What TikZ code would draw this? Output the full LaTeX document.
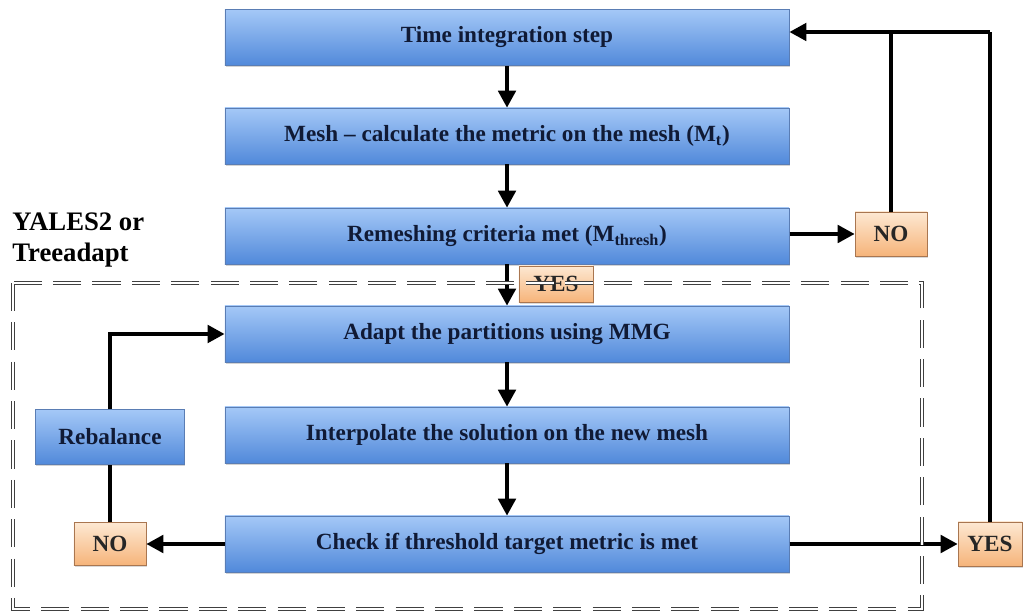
\documentclass[tikz,border=0pt]{standalone}
\usepackage{fontspec}
\setmainfont{Liberation Serif}
\usetikzlibrary{arrows.meta,shadows}

\definecolor{boxtop}{HTML}{A4C8F7}
\definecolor{boxbot}{HTML}{5189DA}
\definecolor{boxline}{HTML}{5A7DB4}
\definecolor{ortop}{HTML}{FDE8D2}
\definecolor{orbot}{HTML}{F6B47A}
\definecolor{orline}{HTML}{A97650}
\definecolor{navytext}{HTML}{101A35}

\begin{document}
\begin{tikzpicture}[x=0.025cm, y=-0.025cm,
    stepbox/.style={draw=boxline, line width=0.6pt, top color=boxtop, bottom color=boxbot,
      minimum width=14.1cm, minimum height=1.4cm, text=navytext,
      font=\fontsize{16.5}{19}\selectfont\bfseries,
      drop shadow={shadow xshift=0.6pt, shadow yshift=-1.2pt, opacity=0.35}},
    answer/.style={draw=orline, line width=0.6pt, top color=ortop, bottom color=orbot,
      minimum width=1.8cm, minimum height=1.1cm, inner sep=2pt, text=black!85,
      font=\fontsize{16.5}{19}\selectfont\bfseries,
      drop shadow={shadow xshift=0.6pt, shadow yshift=-1.2pt, opacity=0.3}},
    flow/.style={line width=2.3pt, -{Triangle[length=12pt, width=12.5pt]}},
    link/.style={line width=2.3pt},
    frame/.style={draw=black!75, line width=1.1pt, double=white, double distance=1.2pt,
      dash pattern=on 20pt off 8pt}]

        % Fix the page size (pixels of the reference)
        \useasboundingbox (0,0) rectangle (1026,615);

        % Main loop of the solver
        \node[stepbox] (time)   at (507,37.5) {Time integration step};
        \node[stepbox] (mesh)   at (507,136)  {Mesh -- calculate the metric on the mesh (M\textsubscript{t})};
        \node[stepbox] (remesh) at (507,236)  {Remeshing criteria met (M\textsubscript{thresh})};

        % Adaptation steps (inside the dashed frame)
        \node[stepbox] (adapt)  at (507,334)  {Adapt the partitions using MMG};
        \node[stepbox] (interp) at (507,435)  {Interpolate the solution on the new mesh};
        \node[stepbox] (check)  at (507,544)  {Check if threshold target metric is met};
        \node[stepbox, minimum width=3.725cm, minimum height=1.375cm] (rebal) at (110,437) {Rebalance};

        % Answers
        \node[answer] (no1)  at (891,234) {NO};
        \node[answer, minimum width=1.85cm, minimum height=0.9cm] (yes1) at (556,284) {YES};
        \node[answer, minimum height=1.075cm] (no2)  at (110,544) {NO};
        \node[answer, minimum width=1.6cm] (yes2) at (990,544) {YES};

        % Frame label
        \node[anchor=north west, align=left, inner sep=0pt, font=\fontsize{19}{21.5}\selectfont\bfseries] (tool) at (12,213) {YALES2 or\\Treeadapt};

        % Downward arrows
        \draw[flow] (time.south) -- (mesh.north);
        \draw[flow] (mesh.south) -- (remesh.north);
        \draw[flow] (remesh.south) -- (adapt.north);
        \draw[flow] (adapt.south) -- (interp.north);
        \draw[flow] (interp.south) -- (check.north);

        % Criteria not met: back to time integration
        \coordinate (turn) at (990,32);
        \draw[flow] (remesh.east |- no1) -- (no1.west);
        \draw[link] (no1.north) -- (no1.north |- turn);
        \draw[link] (yes2.north) -- (turn);
        \draw[flow] (turn) -- (time.east |- turn);

        % Threshold check
        \draw[flow] (check.east) -- (yes2.west);
        \draw[flow] (check.west) -- (no2.east);
        \draw[link] (no2.north) -- (rebal.south);
        \draw[flow] (rebal.north) |- (adapt.west);

        % Dashed frame round the adaptation
        \draw[frame] (13,283) rectangle (922,609);

\end{tikzpicture}
\end{document}
